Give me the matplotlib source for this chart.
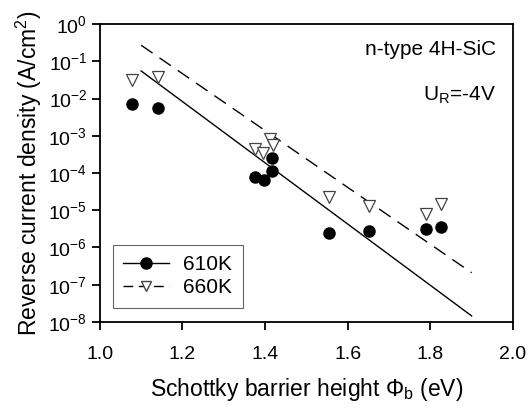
import matplotlib.pyplot as plt
from matplotlib.lines import Line2D

plt.rcParams['font.family'] = 'Liberation Sans'
plt.rcParams['mathtext.fontset'] = 'custom'
plt.rcParams['mathtext.rm'] = 'Liberation Sans'
plt.rcParams['mathtext.it'] = 'Liberation Sans:italic'

# measured points, 610 K
phi_610 = [1.079, 1.140, 1.375, 1.397, 1.416, 1.416, 1.555, 1.651, 1.789, 1.826]
j_610 = [7.1e-3, 5.6e-3, 7.6e-5, 6.5e-5, 2.6e-4, 1.15e-4, 2.5e-6, 2.8e-6, 3.1e-6, 3.5e-6]

# measured points, 660 K
phi_660 = [1.079, 1.140, 1.375, 1.395, 1.413, 1.419, 1.555, 1.651, 1.789, 1.826]
j_660 = [3.1e-2, 3.7e-2, 4.3e-4, 3.5e-4, 8.0e-4, 5.6e-4, 2.3e-5, 1.3e-5, 7.8e-6, 1.5e-5]

# fitted lines
fit_x = [1.1, 1.9]
fit_610 = [5.5e-2, 1.45e-8]
fit_660 = [2.7e-1, 2.1e-7]

yticks = [10.0**k for k in range(0, -9, -1)]
ylabels = ['10$^{%d}$' % k for k in range(0, -9, -1)]

fig = plt.figure(figsize=(5.31, 4.08), dpi=100)
ax = fig.add_axes([0.188, 0.211, 0.778, 0.730])

ax.plot(fit_x, fit_610, color='black', lw=1.0)
ax.plot(fit_x, fit_660, color='black', lw=1.0, dashes=(10, 6))
ax.plot(phi_610, j_610, 'o', color='black', ms=8, ls='none')
ax.plot(phi_660, j_660, 'v', mfc='white', mec='#444444', mew=0.9, ms=8, ls='none')

ax.set_yscale('log')
ax.set_xlim(1.0, 2.0)
ax.set_ylim(1e-8, 1)
ax.set_xticks([1.0, 1.2, 1.4, 1.6, 1.8, 2.0])
ax.set_xticklabels(['1.0', '1.2', '1.4', '1.6', '1.8', '2.0'])
ax.set_yticks(yticks)
ax.set_yticklabels(ylabels)
ax.minorticks_off()
ax.tick_params(labelsize=14, direction='out', length=6, width=1.3, top=False, right=False)
ax.tick_params(axis='x', pad=11)
ax.tick_params(axis='y', pad=3)
for s in ax.spines.values():
    s.set_linewidth(1.3)

ax.set_xlabel(r'Schottky barrier height $\Phi_\mathrm{b}$ (eV)', fontsize=16.5, labelpad=10)
ax.set_ylabel(r'Reverse current density (A/cm$^2$)', fontsize=16.5, labelpad=3)

ax.text(0.96, 0.915, 'n-type 4H-SiC', transform=ax.transAxes, ha='right', va='center', fontsize=15)
ax.text(0.96, 0.762, r'U$_\mathrm{R}$=-4V', transform=ax.transAxes, ha='right', va='center', fontsize=15)

handles = [Line2D([], [], color='black', lw=1.0, marker='o', ms=8),
           Line2D([], [], color='black', lw=1.0, dashes=(7, 4), marker='v', mfc='white',
                  mec='#444444', ms=7)]
leg = ax.legend(handles, ['610K', '660K'], loc='lower left', bbox_to_anchor=(0.031, 0.047),
                borderaxespad=0, fontsize=15, fancybox=False, framealpha=1, edgecolor='#666666',
                handlelength=2.2, handletextpad=0.7, borderpad=0.5, labelspacing=0.2)
leg.get_frame().set_linewidth(0.8)

fig.savefig('out.png', dpi=100)
